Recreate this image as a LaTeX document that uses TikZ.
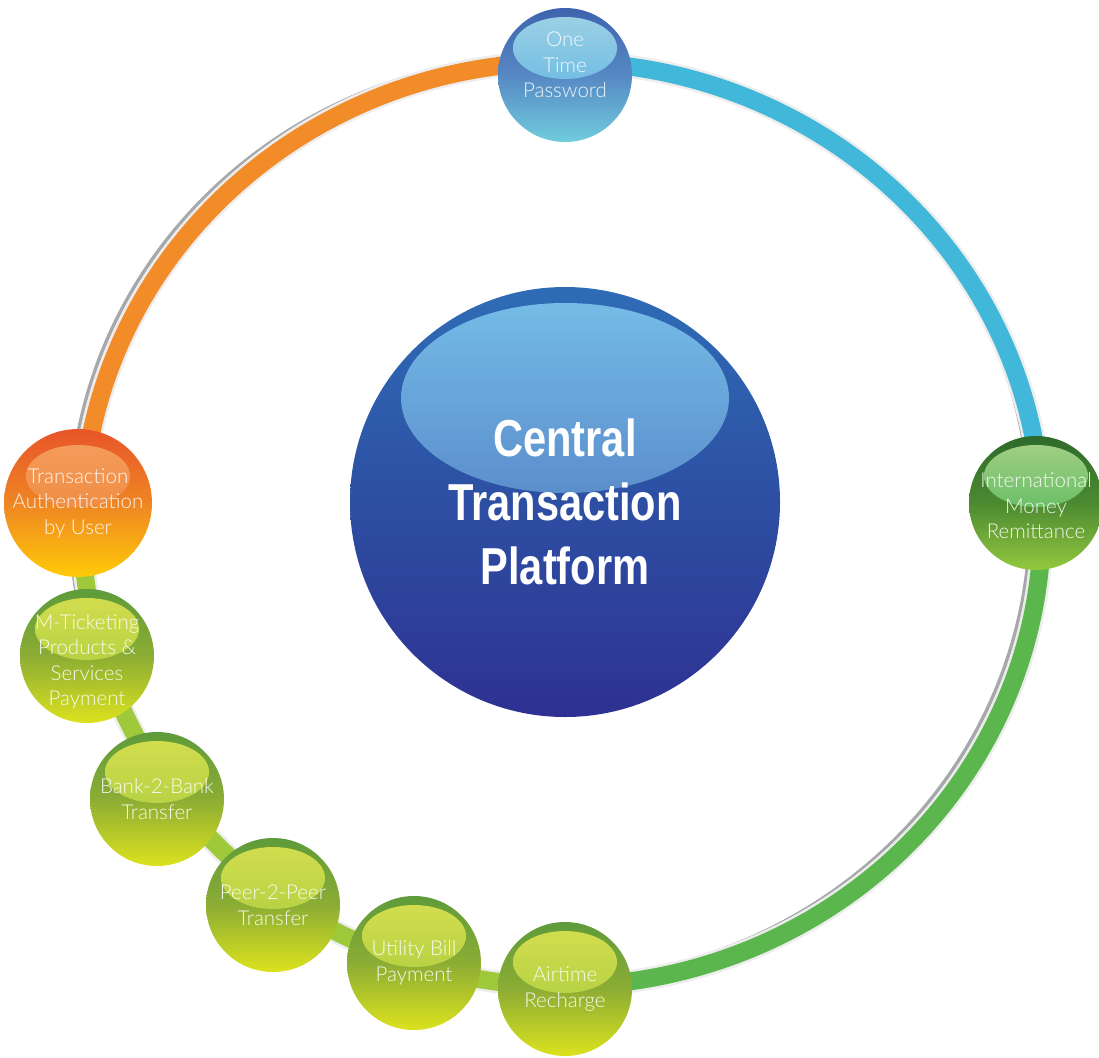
\documentclass[tikz,border=0pt]{standalone}
\usepackage{fontspec}
\setmainfont{Liberation Sans}
\newfontfamily\condfont{Liberation Sans}[FakeStretch=0.8]
\newfontfamily\lightfont{Lato Light}
\usetikzlibrary{backgrounds}
\definecolor{bandOrange}{HTML}{F28C28}
\definecolor{bandCyan}{HTML}{41B8D9}
\definecolor{bandGreen}{HTML}{5BB74D}
\definecolor{bandLime}{HTML}{9DC93B}
\definecolor{rimGray}{HTML}{A7A8AB}
\definecolor{rimLight}{HTML}{EDEDED}
% central
\definecolor{cTop}{HTML}{2F6CB6}
\definecolor{cMid}{HTML}{2D4FA3}
\definecolor{cBot}{HTML}{2E3192}
\definecolor{cHlT}{HTML}{7FC9F0}
\definecolor{cHlB}{HTML}{3F5EAE}
% blue ball
\definecolor{bTop}{HTML}{3F63AE}
\definecolor{bMid}{HTML}{5688C4}
\definecolor{bBot}{HTML}{70CCDD}
\definecolor{bHlT}{HTML}{ABDFEB}
\definecolor{bHlB}{HTML}{4BACE3}
% orange ball
\definecolor{oTop}{HTML}{E8552A}
\definecolor{oMid}{HTML}{EF8523}
\definecolor{oBot}{HTML}{FFCB08}
\definecolor{oHlT}{HTML}{F6A768}
\definecolor{oHlB}{HTML}{EC7A2A}
% dark green ball
\definecolor{dTop}{HTML}{2E6A2B}
\definecolor{dMid}{HTML}{4C8A31}
\definecolor{dBot}{HTML}{93C83E}
\definecolor{dHlT}{HTML}{B5DC93}
\definecolor{dHlB}{HTML}{2FB24A}
% yellow-green ball
\definecolor{yTop}{HTML}{5E9B3A}
\definecolor{yMid}{HTML}{8CAD34}
\definecolor{yBot}{HTML}{DCE21E}
\definecolor{yHlT}{HTML}{E3E652}
\definecolor{yHlB}{HTML}{9ACA3C}
\tikzset{
  ballfont/.style={font=\lightfont\fontsize{20.5}{25.5}\selectfont, text=white, text opacity=0.9},
  ball/.style={circle, minimum size=134pt, inner sep=0pt, align=center, ballfont},
  gloss/.style 2 args={path picture={\shade[top color=#1, bottom color=#2, opacity=0.9]
    ([yshift=27pt]path picture bounding box.center) ellipse [x radius=52pt, y radius=31pt];}},
  blueball/.style={ball, top color=bTop, bottom color=bBot, middle color=bMid, gloss={bHlT}{bHlB}},
  orangeball/.style={ball, top color=oTop, bottom color=oBot, middle color=oMid, gloss={oHlT}{oHlB}},
  darkball/.style={ball, top color=dTop, bottom color=dBot, middle color=dMid, gloss={dHlT}{dHlB}},
  limeball/.style={ball, top color=yTop, bottom color=yBot, middle color=yMid, gloss={yHlT}{yHlB}},
  core/.style={circle, minimum size=430pt, inner sep=0pt, align=center,
    top color=cTop, bottom color=cBot, middle color=cMid,
    font=\condfont\bfseries\fontsize{52}{64}\selectfont, text=white,
    path picture={\shade[top color=cHlT, bottom color=cHlB, opacity=0.9]
      ([yshift=104pt]path picture bounding box.center) ellipse [x radius=164pt, y radius=95pt];}},
  band/.style={line width=18pt},
  ringradii/.style={x radius=480pt, y radius=462pt}
}
\begin{document}
\begin{tikzpicture}[x=1pt,y=1pt]
\useasboundingbox (0,0) rectangle (1099,-1057);
\coordinate (C) at (562,-524);
\coordinate (G) at (550,-518);
\coordinate (p-otp) at ([shift={(C)}]90:480pt and 462pt);
\coordinate (p-auth) at ([shift={(C)}]177.5:480pt and 462pt);
\coordinate (p-air) at ([shift={(C)}]270:480pt and 462pt);
\coordinate (p-intl) at ([shift={(C)}]362.5:480pt and 462pt);

% nodes
\node[core] (ctp) at (565,-502) {Central\\Transaction\\Platform};
\node[blueball, label={[ballfont, align=center, yshift=10pt]center:One\\Time\\Password}] (otp) at (565,-75) {};
\node[orangeball] (auth) at (78,-503) {Transaction\\Authentication\\by User};
\node[darkball, label={[ballfont, align=center, yshift=-3pt]center:International\\Money\\Remittance}] (intl) at (1036,-503) {};
\node[limeball, label={[ballfont, align=center, yshift=-6pt]center:M-Ticketing\\Products \&\\Services\\Payment}] (mtick) at (87,-656) {};
\node[limeball] (b2b) at (157,-799) {Bank-2-Bank\\Transfer};
\node[limeball] (p2p) at (273,-905) {Peer-2-Peer\\Transfer};
\node[limeball] (util) at (414,-963) {Utility Bill\\Payment};
\node[limeball] (air) at (565,-989) {Airtime\\Recharge};

\begin{pgfonlayer}{background}
  \draw[rimGray, line width=3.5pt] (G) ellipse [ringradii];
  \draw[rimLight, line width=23pt] (C) ellipse [ringradii];
  \draw[band, bandOrange] (p-otp) arc [start angle=90, end angle=177.5, ringradii];
  \draw[band, bandLime] (p-auth) arc [start angle=177.5, end angle=270, ringradii];
  \draw[band, bandGreen] (p-air) arc [start angle=270, end angle=362.5, ringradii];
  \draw[band, bandCyan] (p-intl) arc [start angle=2.5, end angle=90, ringradii];
\end{pgfonlayer}
\end{tikzpicture}
\end{document}
